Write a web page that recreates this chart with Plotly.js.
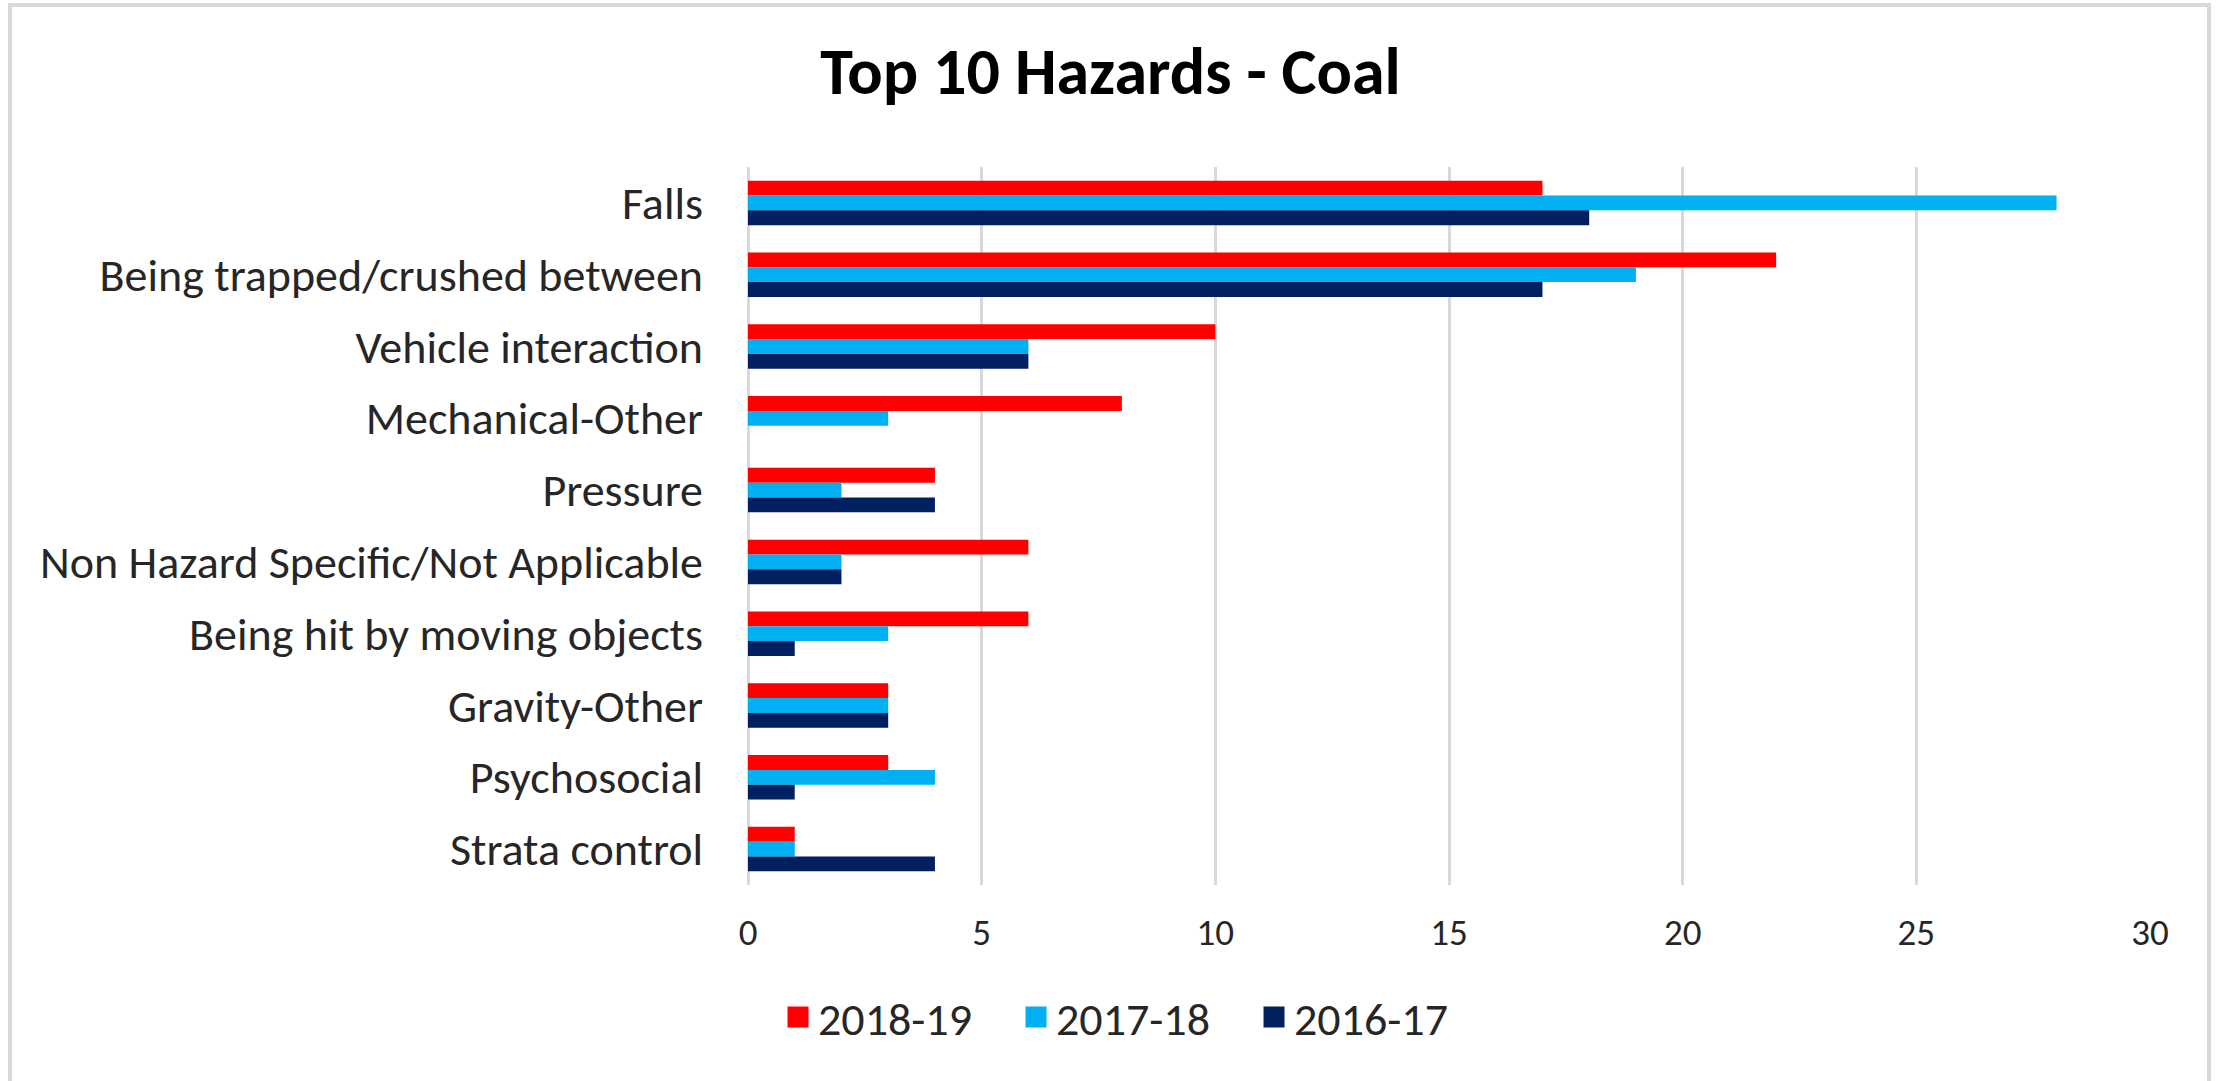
<!DOCTYPE html>
<html>
<head>
<meta charset="utf-8">
<script src="https://cdn.plot.ly/plotly-3.0.1.min.js"></script>
<style>
html,body{margin:0;padding:0;background:#fff;}
#wrap{position:relative;width:2221px;height:1081px;}
#chart{width:2221px;height:1081px;}
#frame{position:absolute;left:8px;top:3px;width:2203px;height:1100px;border:4px solid #d9d9d9;box-sizing:border-box;pointer-events:none;}
</style>
</head>
<body>
<div id="wrap"><div id="chart"></div><div id="frame"></div></div>
<script>
const categories = ["Falls","Being trapped/crushed between","Vehicle interaction","Mechanical-Other","Pressure","Non Hazard Specific/Not Applicable","Being hit by moving objects","Gravity-Other","Psychosocial","Strata control"];
const seriesNames = ["2018-19","2017-18","2016-17"];
const values2018_19 = [17,22,10,8,4,6,6,3,3,1];
const values2017_18 = [28,19,6,3,2,2,3,3,4,1];
const values2016_17 = [18,17,6,0,4,2,1,3,1,4];
const colors = ["#ff0000","#00b0f0","#002060"];
const xTicks = [0,5,10,15,20,25,30];

const FONT = "Carlito, Lato, sans-serif";
const seriesValues = [values2018_19, values2017_18, values2016_17];
const barTraces = seriesNames.map((n,i)=>({
  type:"bar", orientation:"h", name:n, showlegend:false, legendgroup:n,
  y:categories, x:seriesValues[i],
  marker:{color:colors[i]}
}));
// legend-only entries (larger square swatches)
const legendTraces = seriesNames.map((n,i)=>({
  type:"scatter", mode:"markers", name:n, legendgroup:n,
  x:[null], y:[null], hoverinfo:"skip",
  marker:{symbol:"square", size:16, color:colors[i], line:{color:colors[i], width:5}}
}));

const layout = {
  width:2221, height:1081,
  paper_bgcolor:"#fff", plot_bgcolor:"#fff",
  margin:{l:748, r:71, t:167, b:196},
  barmode:"group", bargap:0.38, bargroupgap:0,
  title:{text:"<b>Top 10 Hazards - Coal</b>", font:{family:FONT, size:66, color:"#000"}, x:0.5, xref:"container", xanchor:"center", y:0.934, yref:"container", yanchor:"middle"},
  font:{family:FONT, color:"#262626"},
  xaxis:{range:[0,30], tickvals:xTicks, ticktext:xTicks.map(String), showgrid:true, gridcolor:"#d9d9d9", gridwidth:3,
         zeroline:true, zerolinecolor:"#d9d9d9", zerolinewidth:3, showline:false, ticks:"",
         tickfont:{family:FONT, size:37, color:"#262626"}, ticklabelstandoff:22, fixedrange:true},
  yaxis:{autorange:"reversed", categoryorder:"array", categoryarray:categories, showgrid:false, zeroline:false, showline:false, ticks:"",
         tickfont:{family:FONT, size:46, color:"#262626"}, ticklabelstandoff:44, fixedrange:true},
  legend:{orientation:"h", xref:"container", yref:"container", x:0.3503, xanchor:"left", y:0.059, yanchor:"middle",
          font:{family:FONT, size:46, color:"#262626"}, traceorder:"normal", itemwidth:30,
          entrywidth:193, entrywidthmode:"pixels"},
  showlegend:true
};
Plotly.newPlot("chart", barTraces.concat(legendTraces), layout, {displayModeBar:false, staticPlot:true});
</script>
</body>
</html>
